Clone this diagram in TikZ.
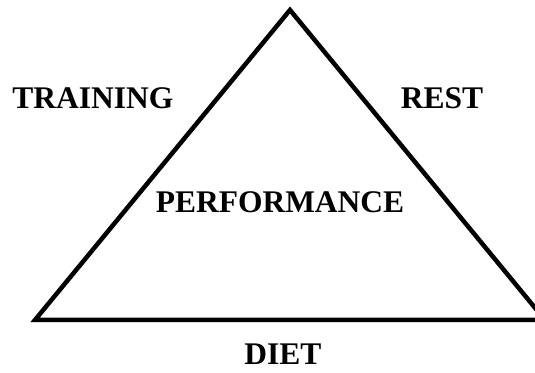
\documentclass[tikz,border=0pt]{standalone}
\usepackage{fontspec}
\setmainfont{Liberation Serif}
\usetikzlibrary{positioning}

\begin{document}
\begin{tikzpicture}[x=1pt,y=1pt,line join=miter,
  side/.style={line width=4.5pt,draw=black},
  label node/.style={inner sep=0pt,anchor=base,font=\fontsize{31.5}{36}\selectfont\bfseries}]

  \useasboundingbox (0,0) rectangle (535,372);

  \coordinate (top) at (290,362);
  \coordinate (left) at (35,52);
  \coordinate (right) at (545,52);

  \draw[side] (top) -- (left) -- (right) -- cycle;

  \node[label node] (training) at (93,263) {TRAINING};
  \node[label node] (rest) at (442,263) {REST};
  \node[label node] (perf) at (280,159) {PERFORMANCE};
  \node[label node] (diet) at (283,8) {DIET};
\end{tikzpicture}
\end{document}
